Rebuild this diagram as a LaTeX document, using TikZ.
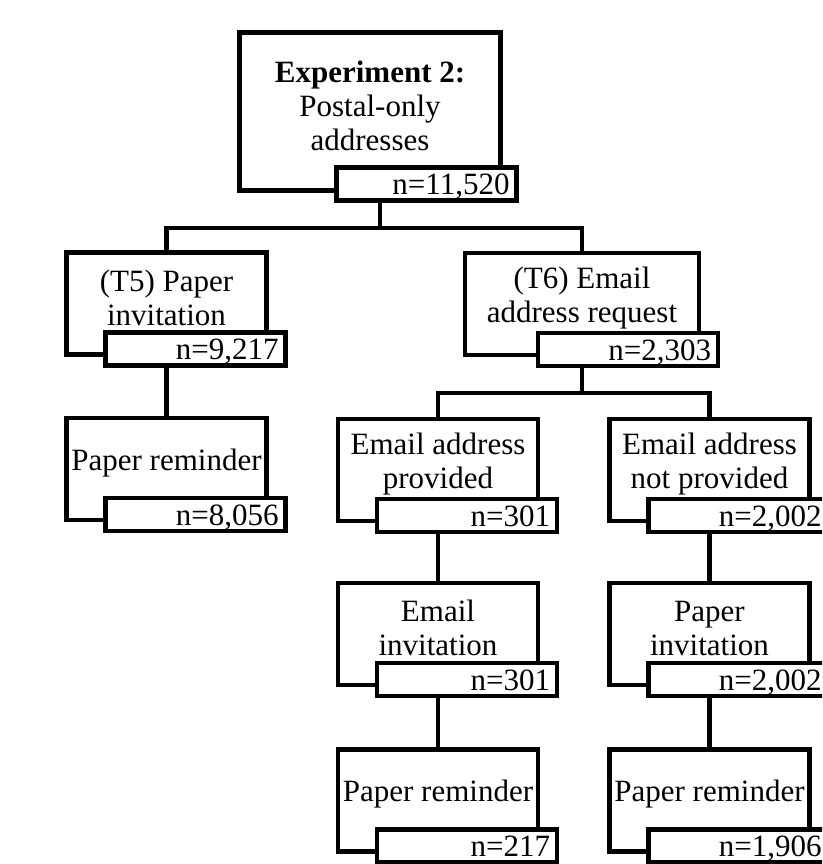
\documentclass[tikz,border=0pt]{standalone}
\usepackage{fontspec}
\setmainfont{Liberation Serif}

\begin{document}
\begin{tikzpicture}[x=1pt, y=1pt, line width=4.5pt,
  font=\fontsize{31}{34}\selectfont,
  every label/.style={align=center, yshift=6pt},
  stage/.style={rectangle, draw, fill=white, minimum width=200pt, minimum height=102pt},
  count/.style={rectangle, draw, fill=white, minimum width=180pt, minimum height=33pt,
    inner sep=3pt, text width=166pt, align=right, text height=21pt, text depth=0pt,
    anchor=south east}]
  \useasboundingbox (0,0) rectangle (822,-864);
  \clip (0,0) rectangle (822,-864);

  \node[stage, minimum width=261pt, minimum height=158pt,
    label={center:\textbf{Experiment 2:}\\Postal-only\\addresses}] (root) at (370,-111.5) {};
  \node[count] (nroot) at ([xshift=16pt, yshift=-10pt]root.south east) {n=11,520};

  \node[stage, label={center:(T5) Paper\\invitation}] (t5) at (166.5,-303.5) {};
  \node[count] (nt5) at ([xshift=19pt, yshift=-11pt]t5.south east) {n=9,217};
  \node[stage, label={center:Paper reminder}] (remleft) at (166.5,-469) {};
  \node[count] (nremleft) at ([xshift=19pt, yshift=-11pt]remleft.south east) {n=8,056};

  \node[stage, minimum width=234pt, label={center:(T6) Email\\address request}] (t6) at (582,-304) {};
  \node[count] (nt6) at ([xshift=19pt, yshift=-11pt]t6.south east) {n=2,303};

  \node[stage, label={center:Email address\\provided}] (given) at (438,-470) {};
  \node[count] (ngiven) at ([xshift=19pt, yshift=-11pt]given.south east) {n=301};
  \node[stage, label={center:Email\\invitation}] (einvite) at (438,-634) {};
  \node[count] (neinvite) at ([xshift=19pt, yshift=-11pt]einvite.south east) {n=301};
  \node[stage, label={center:Paper reminder}] (remmid) at (438,-800.5) {};
  \node[count] (nremmid) at ([xshift=19pt, yshift=-11pt]remmid.south east) {n=217};

  \node[stage, label={center:Email address\\not provided}] (notgiven) at (709.5,-470) {};
  \node[count] (nnotgiven) at ([xshift=19pt, yshift=-11pt]notgiven.south east) {n=2,002};
  \node[stage, label={center:Paper\\invitation}] (pinvite) at (709.5,-634) {};
  \node[count] (npinvite) at ([xshift=19pt, yshift=-11pt]pinvite.south east) {n=2,002};
  \node[stage, label={center:Paper reminder}] (remright) at (709.5,-800.5) {};
  \node[count] (nremright) at ([xshift=19pt, yshift=-11pt]remright.south east) {n=1,906};

  \coordinate (split1) at (380,-228);
  \coordinate (split2) at (582,-393);

  \draw (nroot.south -| split1) -- (split1);
  \draw (t5.north) |- (split1) -| (t6.north);
  \draw (t5.south |- nt5.south) -- (remleft.north);

  \draw (t6.south |- nt6.south) -- (split2);
  \draw (given.north) |- (split2) -| (notgiven.north);
  \draw (given.south |- ngiven.south) -- (einvite.north);
  \draw (einvite.south |- neinvite.south) -- (remmid.north);
  \draw (notgiven.south |- nnotgiven.south) -- (pinvite.north);
  \draw (pinvite.south |- npinvite.south) -- (remright.north);
\end{tikzpicture}
\end{document}
